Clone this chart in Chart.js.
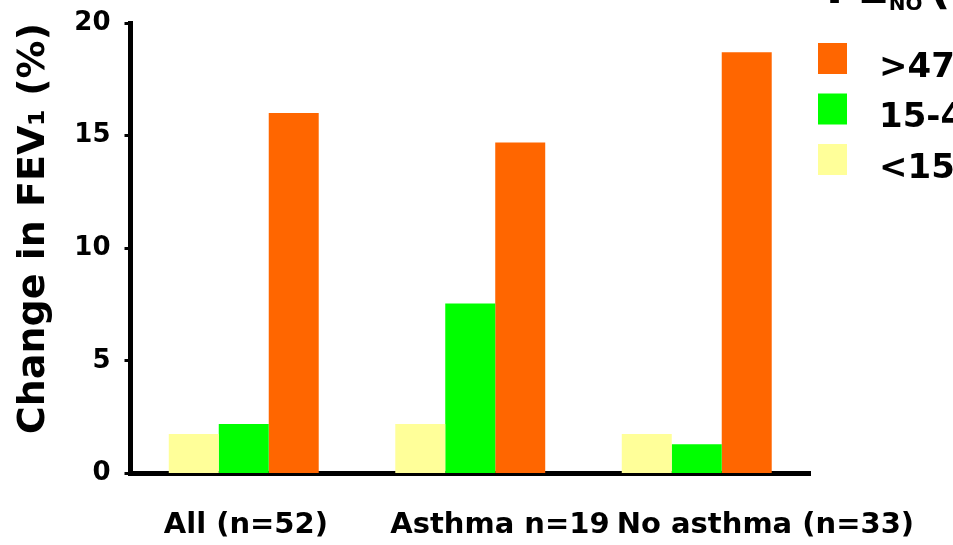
<!DOCTYPE html>
<html>
<head>
<meta charset="utf-8">
<script src="https://cdn.jsdelivr.net/npm/chart.js@4.4.1/dist/chart.umd.min.js"></script>
<style>
  html, body { margin: 0; padding: 0; background: #fff; }
  #wrap { width: 953px; height: 545px; position: relative; }
</style>
</head>
<body>
<div id="wrap"><canvas id="fenoChart"></canvas></div>
<script>
// groups on the x axis
const categories = ["All (n=52)", "Asthma n=19", "No asthma (n=33)"];
// FeNO bands (ppb)
const bandLabels = ["<15", "15-47", ">47"];
const bandColors = ["#FFFF99", "#00FF00", "#FF6600"];
// change in FEV1 (%) per band, one value per group
const lowBand = [1.75, 2.2, 1.75];
const midBand = [2.2, 7.55, 1.3];
const highBand = [16.0, 14.7, 18.7];
const yTicks = [0, 5, 10, 15, 20];

const FONT = "'DejaVu Sans', Verdana, sans-serif";
Chart.defaults.font.family = FONT;
Chart.defaults.font.weight = "bold";
Chart.defaults.color = "#000";

// legend drawn at the right edge, partly cut off like the original slide
const sideLegend = {
    id: "sideLegend",
    afterDraw(chart) {
        const ctx = chart.ctx;
        const x0 = chart.chartArea.right + 8;
        ctx.save();
        ctx.fillStyle = "#000";
        ctx.textBaseline = "alphabetic";
        // title FE_NO (ppb), almost all above the top edge
        let x = x0 + 8;
        ctx.font = "bold 46px " + FONT;
        ctx.fillText("FE", x, 3);
        x += ctx.measureText("FE").width;
        ctx.font = "bold 20px " + FONT;
        ctx.fillText("NO ", x, 10);
        x += ctx.measureText("NO ").width;
        ctx.font = "bold 46px " + FONT;
        ctx.fillText("(ppb)", x, 3);

        // entries, highest band on top
        const sets = chart.data.datasets.slice().reverse();
        ctx.font = "bold 34px " + FONT;
        ctx.textBaseline = "middle";
        sets.forEach((ds, i) => {
            const y = 43 + i * 50.5;
            ctx.fillStyle = ds.backgroundColor;
            ctx.fillRect(x0, y, 29, 31);
            ctx.fillStyle = "#000";
            ctx.fillText(ds.label, x0 + 61, y + 25);
        });
        ctx.restore();
    },
};

const series = [lowBand, midBand, highBand];

new Chart(document.getElementById("fenoChart"), {
    type: "bar",
    data: {
        labels: categories,
        datasets: series.map((values, i) => ({
            label: bandLabels[i],
            data: values,
            backgroundColor: bandColors[i],
            borderWidth: 0,
            categoryPercentage: 0.662,
            barPercentage: 1.0,
        })),
    },
    options: {
        responsive: true,
        maintainAspectRatio: false,
        animation: false,
        layout: {
            padding: { top: 23, right: 143, bottom: 0, left: 0 },
        },
        plugins: {
            legend: { display: false },
            tooltip: { enabled: false },
        },
        scales: {
            x: {
                grid: { display: false, drawTicks: false },
                border: { display: true, color: "#000", width: 5 },
                ticks: {
                    autoSkip: false,
                    maxRotation: 0,
                    align: "start",
                    labelOffset: -80,
                    padding: 35,
                    font: { size: 29, weight: "bold" },
                    color: "#000",
                },
                afterFit: (scale) => {
                    // labels run past the plot on the right, don't shrink the plot for them
                    scale.paddingLeft = 0;
                    scale.paddingRight = 0;
                    scale.height = 71.5;
                },
            },
            y: {
                min: 0,
                max: 20,
                afterBuildTicks: (scale) => {
                    scale.ticks = yTicks.map((v) => ({ value: v }));
                },
                grid: {
                    drawOnChartArea: false,
                    drawTicks: true,
                    tickLength: 6,
                    tickWidth: 3,
                    tickColor: "#000",
                },
                border: { display: true, color: "#000", width: 5 },
                ticks: {
                    padding: 14,
                    font: { size: 26, weight: "bold" },
                    color: "#000",
                },
                title: {
                    display: true,
                    text: "Change in FEV\u2081 (%)",
                    align: "end",
                    color: "#000",
                    padding: { top: 11, bottom: 0 },
                    font: { size: 38, weight: "bold" },
                },
                afterFit: (scale) => {
                    scale.width = 130.5;
                    scale.paddingTop = 0;
                    scale.paddingBottom = 0;
                },
            },
        },
    },
    plugins: [sideLegend],
});
</script>
</body>
</html>
